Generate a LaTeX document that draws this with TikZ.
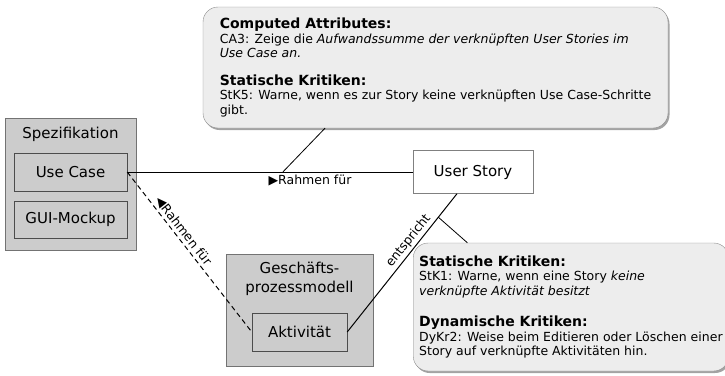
\documentclass[tikz,border=0pt]{standalone}
\usepackage{fontspec}
\setmainfont{DejaVu Sans}
\usetikzlibrary{shadows}

\newcommand\titelfont{\bfseries\fontsize{14}{14.5}\selectfont}

\begin{document}
\begin{tikzpicture}[x=1pt,y=-1pt,
    gruppe/.style={draw=black!55, fill=black!20, inner sep=0pt},
    element/.style={draw=black!70, fill=black!20, inner sep=0pt, font=\fontsize{15}{18}\selectfont},
    notiz/.style={draw=black!45, fill=black!7, rounded corners=15pt, align=left,
        inner ysep=0pt, font=\fontsize{12.5}{14.5}\selectfont,
        drop shadow={shadow xshift=1.5pt, shadow yshift=-2pt, fill=black!60, opacity=0.6}},
    verbindung/.style={line width=1pt},
    zeiger/.style={line width=0.8pt},
    kante/.style={font=\fontsize{12.5}{14}\selectfont, inner sep=2pt}]

    \useasboundingbox (0,0) rectangle (725,375);

    %Spezifikation mit Use Case und GUI-Mockup
    \node[gruppe, minimum width=131, minimum height=132] (spez) at (70.5,184) {};
    \node[anchor=base, font=\fontsize{15}{18}\selectfont] (spezTitel) at (70.5,138) {Spezifikation};
    \node[element, minimum width=113, minimum height=38] (usecase) at (70.5,172) {Use Case};
    \node[element, minimum width=113, minimum height=37] (gui) at (70.5,219.5) {GUI-Mockup};

    %Geschaeftsprozessmodell mit Aktivitaet
    \node[gruppe, minimum width=147, minimum height=112] (gpm) at (299.5,310) {};
    \node[anchor=north, align=center, inner sep=0pt, font=\fontsize{15}{18.5}\selectfont] (gpmTitel) at (299.5,262) {Geschäfts-\\prozessmodell};
    \node[element, minimum width=95, minimum height=38] (aktivitaet) at (299.5,332) {Aktivität};

    %User Story
    \node[draw=black!50, fill=white, minimum width=120, minimum height=43, font=\fontsize{15}{18}\selectfont] (userstory) at (473,172) {User Story};

    %Notizen
    \node[notiz, inner xsep=15pt, minimum width=465, minimum height=121] (ca) at (435.5,67.5) {%
        {\titelfont Computed Attributes:}\\
        CA3: Zeige die \textit{Aufwandssumme der verknüpften User Stories im}\\
        \textit{Use Case an.}\\[13pt]
        {\titelfont Statische Kritiken:}\\
        StK5: Warne, wenn es zur Story keine verknüpften Use Case-Schritte\\
        gibt.};
    \node[notiz, inner xsep=6pt, minimum width=311, minimum height=128, anchor=west] (kritik) at (413,307) {%
        {\titelfont Statische Kritiken:}\\
        StK1: Warne, wenn eine Story \textit{keine}\\
        \textit{verknüpfte Aktivität besitzt}\\[17pt]
        {\titelfont Dynamische Kritiken:}\\
        DyKr2: Weise beim Editieren oder Löschen einer\\
        Story auf verknüpfte Aktivitäten hin.};

    %Verbindungen
    \draw[verbindung] (usecase) -- coordinate[pos=0.545] (p1)
        node[kante, below, pos=0.64] (rahmen1) {▶Rahmen für} (userstory);
    \draw[verbindung, dash pattern=on 5pt off 3.5pt] (usecase.east) --
        node[kante, sloped, above, pos=0.4] (rahmen2) {◀Rahmen für} (aktivitaet.west);
    \draw[verbindung] (aktivitaet.east) -- node[kante, sloped, above, pos=0.62] (entspr) {entspricht}
        coordinate[pos=0.83] (p2) ([xshift=-16pt]userstory.south);

    %Zeiger zu den Notizen
    \draw[zeiger] (p1) -- ([xshift=-110.5pt]ca.south);
    \draw[zeiger] (p2) -- ([xshift=-103.5pt]kritik.north);

\end{tikzpicture}
\end{document}
